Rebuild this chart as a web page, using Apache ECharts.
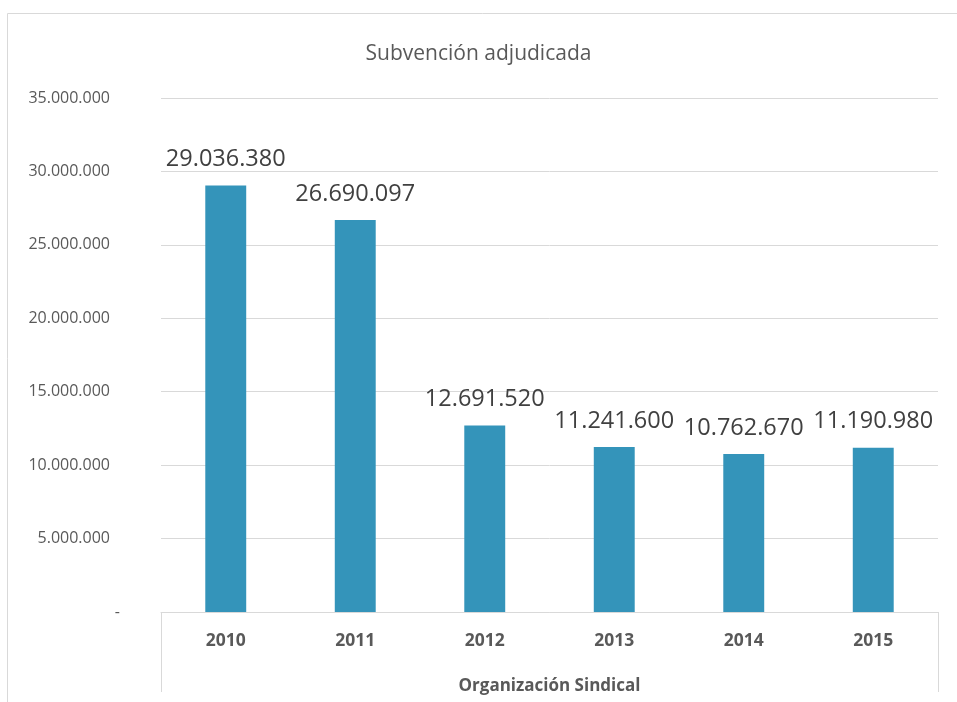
<!DOCTYPE html>
<html>
<head>
<meta charset="utf-8">
<script src="https://cdn.jsdelivr.net/npm/echarts@6/dist/echarts.min.js"></script>
<style>
  html, body { margin: 0; padding: 0; background: #fff; }
  #main { width: 957px; height: 702px; }
</style>
</head>
<body>
<div id="main"></div>
<script>
var years = ['2010', '2011', '2012', '2013', '2014', '2015'];
var subvencion = [29036380, 26690097, 12691520, 11241600, 10762670, 11190980];
var yMax = 35000000;
var yStep = 5000000;

var FONT = 'Open Sans';
var GRID_LEFT = 161, GRID_RIGHT = 19, GRID_TOP = 98, GRID_BOTTOM = 90;

// formato con puntos de miles
function fmt(v) {
    if (v === 0) return '-';
    return String(Math.round(v)).replace(/\B(?=(\d{3})+(?!\d))/g, '.');
}

var myChart = echarts.init(document.getElementById('main'));
myChart.setOption({
    animation: false,
    title: {
        text: 'Subvención adjudicada',
        left: 'center',
        top: 39,
        padding: [5, 5, 5, 25],
        textStyle: { fontFamily: FONT, fontSize: 21, fontWeight: 'normal', color: '#595959' }
    },
    grid: { left: GRID_LEFT, right: GRID_RIGHT, top: GRID_TOP, bottom: GRID_BOTTOM },
    xAxis: {
        type: 'category',
        data: years,
        name: 'Organización Sindical',
        nameLocation: 'middle',
        nameGap: 66,
        nameTextStyle: { fontFamily: FONT, fontSize: 17, fontWeight: 'bold', color: '#595959' },
        axisLine: { lineStyle: { color: '#d9d9d9', width: 1 } },
        axisTick: { show: false },
        axisLabel: { fontFamily: FONT, fontSize: 17.5, fontWeight: 'bold', color: '#595959', margin: 20 }
    },
    yAxis: {
        type: 'value',
        min: 0,
        max: yMax,
        interval: yStep,
        axisLine: { show: false },
        axisTick: { show: false },
        splitLine: { lineStyle: { color: '#d9d9d9', width: 1 } },
        axisLabel: {
            fontFamily: FONT, fontSize: 16, color: '#595959', margin: 41,
            formatter: function (v) { return v === 0 ? '{z|-}' : '{n|' + fmt(v) + '}'; },
            rich: {
                n: { fontFamily: FONT, fontSize: 16, color: '#595959', padding: [0, 10, 0, 0] },
                z: { fontFamily: FONT, fontSize: 16, color: '#595959' }
            }
        }
    },
    series: [{
        type: 'bar',
        data: subvencion,
        barWidth: '31.6%',
        itemStyle: { color: '#3494ba' },
        label: {
            show: true,
            position: 'top',
            distance: 14,
            fontFamily: FONT,
            fontSize: 23.5,
            color: '#404040',
            formatter: function (p) { return fmt(p.value); }
        }
    }],
    graphic: [
        // marco del gráfico
        { type: 'rect', shape: { x: 7.5, y: 13.5, width: 960, height: 700 },
          style: { fill: null, stroke: '#d9d9d9', lineWidth: 1 }, silent: true },
        // líneas verticales de la tabla de categorías
        { type: 'line', shape: { x1: GRID_LEFT + 0.5, y1: 702 - GRID_BOTTOM, x2: GRID_LEFT + 0.5, y2: 692 },
          style: { stroke: '#d9d9d9', lineWidth: 1 }, silent: true },
        { type: 'line', shape: { x1: 957 - GRID_RIGHT + 0.5, y1: 702 - GRID_BOTTOM, x2: 957 - GRID_RIGHT + 0.5, y2: 692 },
          style: { stroke: '#d9d9d9', lineWidth: 1 }, silent: true }
    ]
});
</script>
</body>
</html>
